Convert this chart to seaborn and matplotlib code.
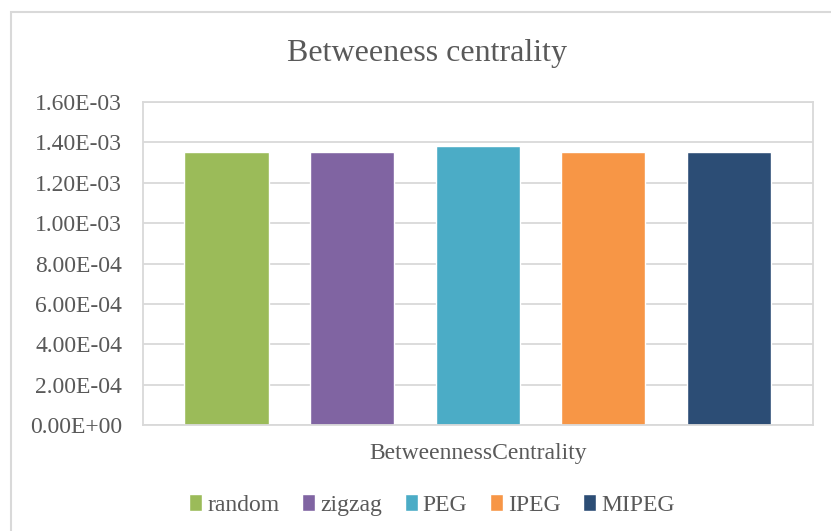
import matplotlib
matplotlib.use("Agg")
import matplotlib.pyplot as plt
import seaborn as sns
import pandas as pd
from matplotlib.patches import Rectangle
from matplotlib.ticker import FixedLocator, FuncFormatter

# Data
metric = ["BetweennessCentrality"]
methods = ["random", "zigzag", "PEG", "IPEG", "MIPEG"]
values = [1.35e-3, 1.35e-3, 1.38e-3, 1.35e-3, 1.35e-3]
colors = ["#9BBB59", "#8064A2", "#4BACC6", "#F79646", "#2C4D75"]
yticks = [0, 2e-4, 4e-4, 6e-4, 8e-4, 1.0e-3, 1.2e-3, 1.4e-3, 1.6e-3]

df = pd.DataFrame({
    "metric": metric * len(methods),
    "method": methods,
    "value": values,
})

sns.set_theme(style="white")
plt.rcParams["font.family"] = ["Liberation Serif", "DejaVu Serif"]
text_color = "#595959"
grid_color = "#D9D9D9"

W, H = 831, 531
fig = plt.figure(figsize=(W / 100, H / 100), dpi=100)
fig.patch.set_facecolor("white")

# plot area in pixel units
left, right, top, bottom = 143, 812.5, 102, 425
ax = fig.add_axes([left / W, 1 - bottom / H, (right - left) / W, (bottom - top) / H])

sns.barplot(data=df, x="metric", y="value", hue="method", hue_order=methods,
            palette=colors, width=0.938, gap=0.33, saturation=1,
            errorbar=None, ax=ax)

ax.set_ylim(0, 1.6e-3)
ax.yaxis.set_major_locator(FixedLocator(yticks))
ax.yaxis.set_major_formatter(FuncFormatter(lambda v, p: f"{v:.2E}"))
ax.set_xlim(-0.5, 0.5)
ax.set_xlabel("")
ax.set_ylabel("")
ax.grid(axis="y", color=grid_color, linewidth=1.3)
ax.set_axisbelow(True)
for s in ax.spines.values():
    s.set_visible(True)
    s.set_color(grid_color)
    s.set_linewidth(1.3)
ax.tick_params(axis="y", length=0, pad=15, labelsize=17, labelcolor=text_color)
ax.tick_params(axis="x", length=0, pad=13, labelsize=17, labelcolor=text_color)

# legend below the chart
handles, labels = ax.get_legend_handles_labels()
if ax.get_legend() is not None:
    ax.get_legend().remove()
fig.legend(handles, labels, loc="center", bbox_to_anchor=(432 / W, 1 - 505 / H),
           ncol=5, frameon=False, fontsize=17, labelcolor=text_color,
           handlelength=0.55, handleheight=0.7, handletextpad=0.22,
           columnspacing=0.95, borderaxespad=0)

fig.text(427 / W, 1 - 53 / H, "Betweeness centrality", ha="center", va="center",
         fontsize=23, color=text_color)

# chart outline
fig.patches.append(Rectangle((11 / W, -0.05), 1.2, 1 - 12 / H + 0.05,
                             transform=fig.transFigure, fill=False,
                             edgecolor=grid_color, linewidth=1.5))

fig.savefig("out.png", dpi=100)
